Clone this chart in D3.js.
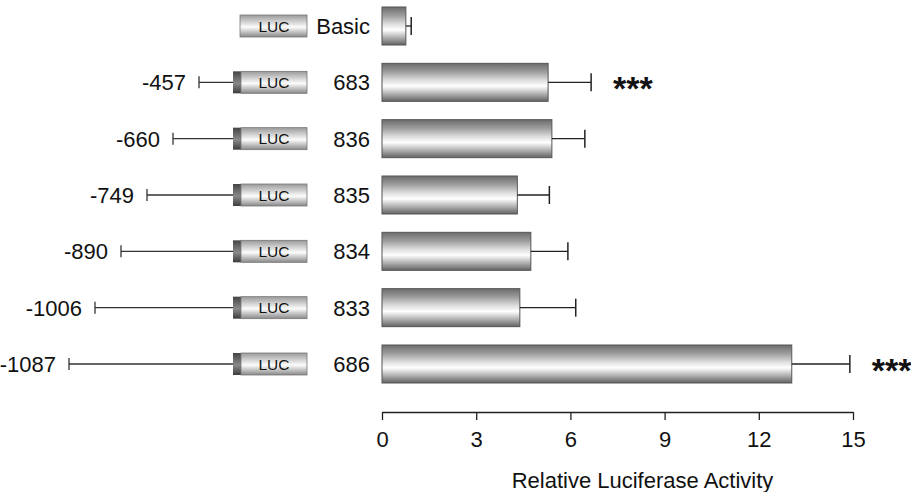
<!DOCTYPE html>
<html>
<head>
<meta charset="utf-8">
<script src="https://cdn.jsdelivr.net/npm/d3@7"></script>
<style>
  body { margin: 0; background: #fff; }
  svg text { font-family: "Liberation Sans", Arial, sans-serif; fill: #111; }
</style>
</head>
<body>
<svg id="chart" width="911" height="492"></svg>
<script>
// constructs, top to bottom
var constructs = ["Basic", "683", "836", "835", "834", "833", "686"];
var promoterStart = [null, "-457", "-660", "-749", "-890", "-1006", "-1087"];
var activity = [0.76, 5.29, 5.41, 4.31, 4.74, 4.39, 13.05];
var errors = [0.17, 1.37, 1.05, 1.02, 1.18, 1.78, 1.85];
var signif = ["", "***", "", "", "", "", "***"];
var xTicks = [0, 3, 6, 9, 12, 15];

var svg = d3.select("#chart");

var x = d3.scaleLinear().domain([0, 15]).range([382, 853]);
var y = d3.scalePoint().domain(constructs).range([26, 364]);
// promoter line start, schematic (by construct order)
var px = d3.scaleLinear().domain([1, 6]).range([199, 69]);

var barH = 38, boxH = 22, boxL = 241, boxR = 307, stripeL = 233;

var defs = svg.append("defs");
var g1 = defs.append("linearGradient").attr("id", "barGrad")
    .attr("x1", 0).attr("y1", 0).attr("x2", 0).attr("y2", 1);
g1.append("stop").attr("offset", "0%").attr("stop-color", "#6c6c6c");
g1.append("stop").attr("offset", "22%").attr("stop-color", "#9c9c9c");
g1.append("stop").attr("offset", "45%").attr("stop-color", "#dedede");
g1.append("stop").attr("offset", "60%").attr("stop-color", "#ffffff");
g1.append("stop").attr("offset", "82%").attr("stop-color", "#aaaaaa");
g1.append("stop").attr("offset", "100%").attr("stop-color", "#626262");

var g2 = defs.append("linearGradient").attr("id", "boxGrad")
    .attr("x1", 0).attr("y1", 0).attr("x2", 0).attr("y2", 1);
g2.append("stop").attr("offset", "0%").attr("stop-color", "#9a9a9a");
g2.append("stop").attr("offset", "55%").attr("stop-color", "#fcfcfc");
g2.append("stop").attr("offset", "100%").attr("stop-color", "#888");

var g3 = defs.append("linearGradient").attr("id", "stripeGrad")
    .attr("x1", 0).attr("y1", 0).attr("x2", 0).attr("y2", 1);
g3.append("stop").attr("offset", "0%").attr("stop-color", "#444");
g3.append("stop").attr("offset", "55%").attr("stop-color", "#8a8a8a");
g3.append("stop").attr("offset", "100%").attr("stop-color", "#3c3c3c");

var rows = svg.selectAll("g.row").data(constructs).enter()
    .append("g").attr("class", "row")
    .attr("transform", function(d) { return "translate(0," + y(d) + ")"; });

// promoter lines
rows.filter(function(d, i) { return promoterStart[i]; })
    .each(function(d) {
	var idx = constructs.indexOf(d);
	var g = d3.select(this);
	var sx = px(idx);
	g.append("line").attr("x1", sx).attr("x2", stripeL).attr("y1", 0).attr("y2", 0)
	    .attr("stroke", "#333").attr("stroke-width", 1.3);
	g.append("line").attr("x1", sx).attr("x2", sx).attr("y1", -6).attr("y2", 6)
	    .attr("stroke", "#333").attr("stroke-width", 1.3);
	g.append("text").attr("x", sx - 13).attr("y", 8).attr("text-anchor", "end")
	    .attr("font-size", 22).text(promoterStart[idx]);
	g.append("rect").attr("x", stripeL).attr("y", -boxH / 2).attr("width", boxL - stripeL)
	    .attr("height", boxH).attr("fill", "url(#stripeGrad)");
    });

// LUC boxes
rows.append("rect").attr("x", function(d, i) { return i === 0 ? boxL - 1 : boxL; })
    .attr("y", -boxH / 2).attr("width", function(d, i) { return boxR - (i === 0 ? boxL - 1 : boxL); })
    .attr("height", boxH).attr("fill", "url(#boxGrad)")
    .attr("stroke", "#777").attr("stroke-width", 0.8);
rows.append("text").attr("x", (boxL + boxR) / 2).attr("y", 5.5).attr("text-anchor", "middle")
    .attr("font-size", 15.5).text("LUC");

// construct names
rows.append("text").attr("x", 370).attr("y", 8).attr("text-anchor", "end")
    .attr("font-size", 22).text(function(d) { return d; });

// bars
rows.append("rect").attr("x", x(0)).attr("y", -barH / 2)
    .attr("width", function(d, i) { return x(activity[i]) - x(0); })
    .attr("height", barH).attr("fill", "url(#barGrad)")
    .attr("stroke", "#555").attr("stroke-width", 1);

// error bars
rows.append("line")
    .attr("x1", function(d, i) { return x(activity[i]); })
    .attr("x2", function(d, i) { return x(activity[i] + errors[i]); })
    .attr("y1", 0).attr("y2", 0).attr("stroke", "#222").attr("stroke-width", 1.3);
rows.append("line")
    .attr("x1", function(d, i) { return x(activity[i] + errors[i]); })
    .attr("x2", function(d, i) { return x(activity[i] + errors[i]); })
    .attr("y1", -9).attr("y2", 9).attr("stroke", "#222").attr("stroke-width", 1.5);

// significance stars
rows.append("text")
    .attr("x", function(d, i) { return x(activity[i] + errors[i]) + 22; })
    .attr("y", 18).attr("font-size", 34).attr("font-weight", "bold")
    .text(function(d, i) { return signif[i]; });

// axis
var axis = svg.append("g").attr("transform", "translate(0,412)")
    .call(d3.axisBottom(x).tickValues(xTicks).tickSize(8).tickSizeOuter(0).tickPadding(11));
axis.select(".domain").attr("stroke", "#222").attr("stroke-width", 1.3);
axis.selectAll(".tick line").attr("stroke", "#222").attr("stroke-width", 1.3);
axis.selectAll(".tick text").attr("font-size", 22).attr("fill", "#111")
    .attr("font-family", "Liberation Sans, Arial, sans-serif");

// title sits a bit right of the axis middle in the original
svg.append("text").attr("x", (x(0) + x(15)) / 2 + 25).attr("y", 488).attr("text-anchor", "middle")
    .attr("font-size", 22).text("Relative Luciferase Activity");
</script>
</body>
</html>
